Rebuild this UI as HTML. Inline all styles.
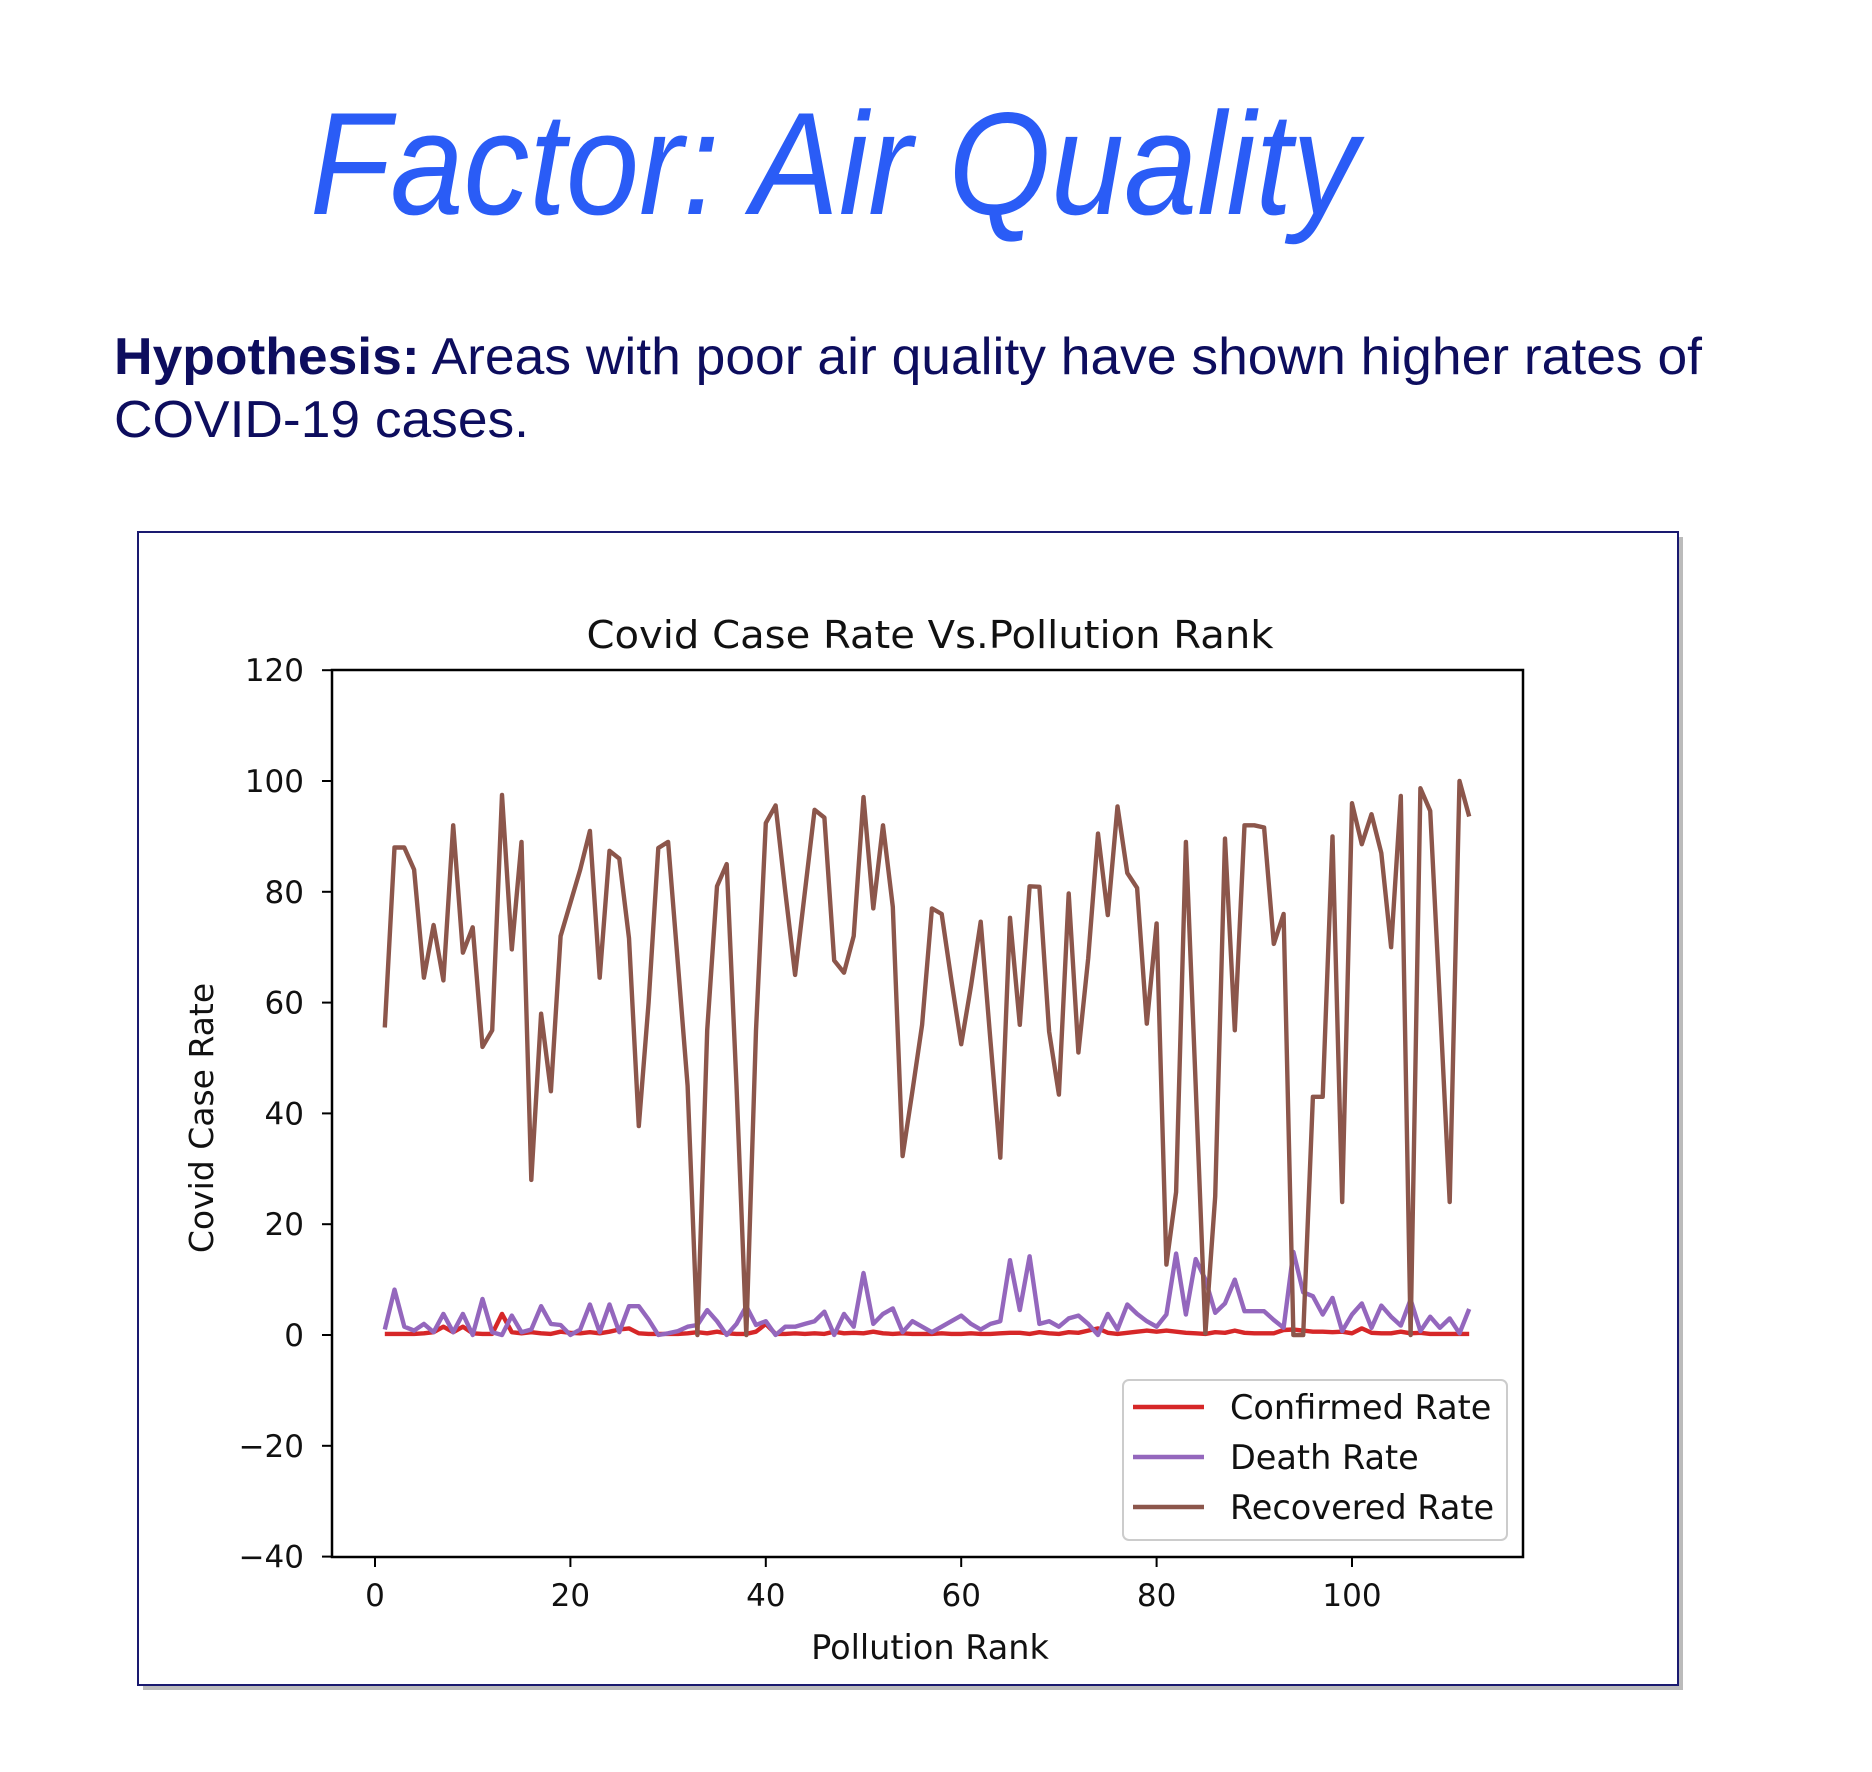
<!DOCTYPE html>
<html><head><meta charset="utf-8"><style>
html,body{margin:0;padding:0;background:#fff;}
svg{display:block;}
</style></head><body>
<svg id="page" width="1872" height="1772" viewBox="0 0 1872 1772" xmlns="http://www.w3.org/2000/svg">
<rect width="1872" height="1772" fill="#fff"/>
<text x="310" y="214" font-family="Liberation Sans, sans-serif" font-style="italic" font-size="146" fill="#2a5cf6" textLength="1048" lengthAdjust="spacingAndGlyphs">Factor: Air Quality</text>
<text x="114" y="374" font-family="Liberation Sans, sans-serif" font-size="52" fill="#0d0d5e" textLength="1588" lengthAdjust="spacingAndGlyphs"><tspan font-weight="bold">Hypothesis:</tspan> Areas with poor air quality have shown higher rates of</text>
<text x="114" y="437" font-family="Liberation Sans, sans-serif" font-size="52" fill="#0d0d5e" textLength="415" lengthAdjust="spacingAndGlyphs">COVID-19 cases.</text>
<rect x="143" y="537" width="1540" height="1153" fill="#bbb"/>
<rect x="138" y="532" width="1540" height="1153" fill="#fff" stroke="#1a1a70" stroke-width="2"/>
<g id="chart" font-family="DejaVu Sans, sans-serif"></g>
</svg>
<script>
const ranks = Array.from({length:112},(_,i)=>i+1);
const recoveredRate = [55.5,88,88,84,64.5,74,64,92,69,73.6,52,55,97.5,69.6,89,28,58,44,72,78,84,91,64.5,87.4,86,71.6,37.7,60,87.9,89,67,45,0,55,81,85,45,0,55,92.4,95.6,80,65,80,94.8,93.4,67.6,65.4,72,97.1,77,92,77.3,32.3,44,56,77,76,64,52.5,63,74.6,53,32,75.3,56,81,80.9,54.8,43.4,79.7,51,68,90.5,75.8,95.4,83.4,80.7,56.2,74.3,12.7,25.8,89,45,0.3,25,89.6,55,92,92,91.6,70.6,76,0,0,43,43,90,24,96,88.6,94,87,70,97.3,0,98.7,94.6,60,24,100,93.6];
const deathRate = [1,8.2,1.5,0.8,2,0.5,3.8,0.5,3.8,0,6.5,0.5,0,3.5,0.5,1,5.2,2,1.8,0,1,5.5,0.5,5.5,0.5,5.2,5.2,2.8,0,0.3,0.7,1.5,1.8,4.5,2.5,0,2,5.2,1.8,2.5,0,1.5,1.5,2,2.5,4.2,0,3.8,1.5,11.2,2,3.8,4.8,0.5,2.5,1.5,0.5,1.5,2.5,3.5,2,1,2,2.5,13.5,4.5,14.2,2,2.5,1.5,3,3.5,2,0,3.8,1,5.5,3.8,2.5,1.5,3.7,14.7,3.7,13.7,10,4,5.7,10,4.3,4.3,4.3,2.7,1.3,15,7.7,7,3.7,6.7,0.7,3.7,5.7,1.3,5.3,3.3,1.7,6.4,0.7,3.3,1.3,3,0.3,4.7];
const confirmedRate = [0.2,0.2,0.2,0.2,0.3,0.5,1.5,0.5,1.5,0.3,0.2,0.2,3.8,0.5,0.3,0.5,0.3,0.2,0.6,0.4,0.3,0.5,0.3,0.6,1,1.2,0.3,0.2,0.2,0.2,0.2,0.3,0.5,0.3,0.6,0.3,0.2,0.2,0.6,2,0.2,0.2,0.3,0.2,0.3,0.2,0.6,0.3,0.4,0.3,0.6,0.3,0.2,0.3,0.2,0.2,0.2,0.3,0.2,0.2,0.3,0.2,0.2,0.3,0.4,0.4,0.2,0.5,0.3,0.2,0.5,0.4,0.8,1.2,0.4,0.2,0.4,0.6,0.8,0.6,0.8,0.6,0.4,0.3,0.2,0.5,0.4,0.8,0.4,0.3,0.3,0.3,0.9,1,0.8,0.6,0.6,0.5,0.6,0.3,1.2,0.4,0.3,0.3,0.6,0.3,0.4,0.2,0.2,0.2,0.2,0.2];
const yTicks = [120,100,80,60,40,20,0,-20,-40];
const yTickLabels = ["120","100","80","60","40","20","0","\u221220","\u221240"];
const xTicks = [0,20,40,60,80,100];
const xTickLabels = ["0","20","40","60","80","100"];
const seriesNames = ["Confirmed Rate","Death Rate","Recovered Rate"];

const NS="http://www.w3.org/2000/svg";
const g=document.getElementById('chart');
const L=332,R=1523,T=670,B=1557;
const xs=v=>375+v*9.77;
const ys=v=>1335-v*5.54;
function mk(tag,attrs){const e=document.createElementNS(NS,tag);for(const k in attrs)e.setAttribute(k,attrs[k]);g.appendChild(e);return e;}

const title=mk('text',{x:930,y:648,'text-anchor':'middle','font-size':38,fill:'#111',textLength:687,lengthAdjust:'spacingAndGlyphs'});
title.textContent='Covid Case Rate Vs.Pollution Rank';



const colors=['#d62728','#9467bd','#8c564b'];
[confirmedRate,deathRate,recoveredRate].forEach((arr,si)=>{
  const pts=arr.map((v,i)=>xs(ranks[i]).toFixed(1)+','+ys(v).toFixed(1)).join(' ');
  const pl=mk('polyline',{points:pts,fill:'none',stroke:colors[si],'stroke-width':4.4,'stroke-linejoin':'round'});
  
  
});

const frame=mk('rect',{x:L,y:T,width:R-L,height:B-T,fill:'none',stroke:'#000','stroke-width':2.5});



yTicks.forEach((v,i)=>{
  const tk=mk('line',{x1:L-10,x2:L,y1:ys(v),y2:ys(v),stroke:'#000','stroke-width':2});
  
  
  const t=mk('text',{x:L-28,y:ys(v)+11,'text-anchor':'end','font-size':31,fill:'#111'});
  t.textContent=yTickLabels[i];
  
  
});
xTicks.forEach((v,i)=>{
  const tk=mk('line',{x1:xs(v),x2:xs(v),y1:B,y2:B+10,stroke:'#000','stroke-width':2});
  
  
  const t=mk('text',{x:xs(v),y:1606,'text-anchor':'middle','font-size':31,fill:'#111'});
  t.textContent=xTickLabels[i];
  
  
});
const xl=mk('text',{x:930,y:1659,'text-anchor':'middle','font-size':33.5,fill:'#111'});
xl.textContent='Pollution Rank';


const yl=mk('text',{x:0,y:0,'text-anchor':'middle','font-size':33,fill:'#111',transform:'translate(213,1118) rotate(-90)'});
yl.textContent='Covid Case Rate';



const lg=mk('rect',{x:1123,y:1380,width:384,height:160,rx:6,fill:'#fff',stroke:'#ccc','stroke-width':2});


seriesNames.forEach((n,i)=>{
  const yy=1407+i*50;
  const ln=mk('line',{x1:1133,x2:1204,y1:yy,y2:yy,stroke:colors[i],'stroke-width':4.4});
  
  
  const t=mk('text',{x:1230,y:yy+12,'font-size':33.5,fill:'#111'});
  t.textContent=n;
  
  
});
</script>
</body></html>
